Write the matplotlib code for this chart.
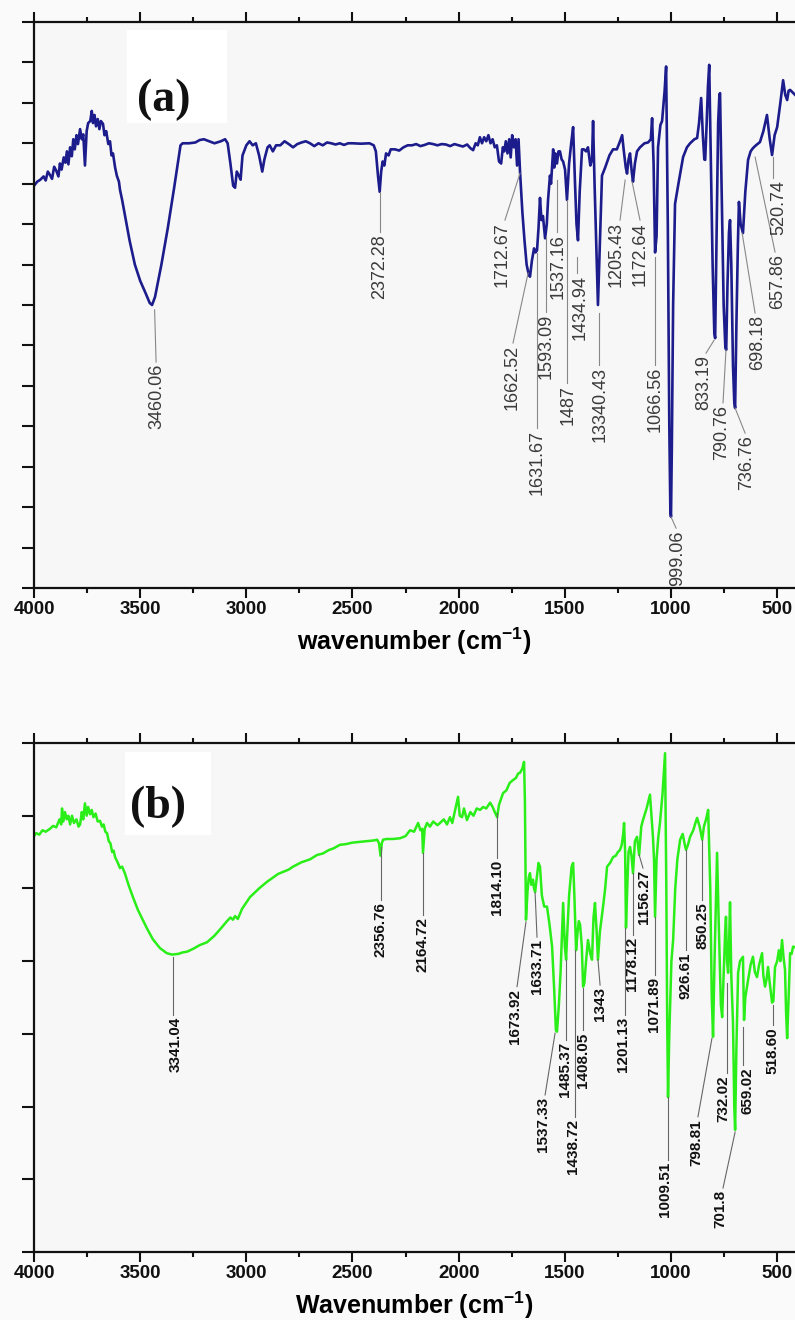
import matplotlib
matplotlib.use('Agg')
import matplotlib.pyplot as plt
from matplotlib.patches import Rectangle
from matplotlib.ticker import MultipleLocator

plt.rcParams['font.family'] = ['Liberation Sans', 'DejaVu Sans']
plt.rcParams['mathtext.fontset'] = 'custom'
plt.rcParams['mathtext.rm'] = 'Liberation Sans:bold'
plt.rcParams['mathtext.it'] = 'Liberation Sans:bold'
plt.rcParams['mathtext.bf'] = 'Liberation Sans:bold'

# ---------------- Panel (a) spectrum ----------------
wn_a = [4000, 3985, 3970, 3955, 3945, 3935, 3925, 3915, 3905, 3895,
        3885, 3878, 3870, 3860, 3852, 3845, 3838, 3830, 3822, 3815,
        3808, 3800, 3793, 3783, 3775, 3768, 3760, 3752, 3745, 3735,
        3728, 3722, 3715, 3708, 3700, 3692, 3685, 3675, 3668, 3660,
        3650, 3642, 3635, 3628, 3618, 3610, 3600, 3595, 3585, 3571,
        3550, 3525, 3500, 3475, 3455, 3444, 3430, 3400, 3370, 3340,
        3310, 3300, 3270, 3240, 3220, 3200, 3180, 3150, 3120, 3100,
        3088, 3075, 3062, 3053, 3045, 3035, 3027, 3018, 3000, 2985,
        2970, 2955, 2940, 2925, 2915, 2900, 2890, 2875, 2860, 2840,
        2820, 2800, 2780, 2760, 2740, 2720, 2700, 2680, 2660, 2640,
        2620, 2600, 2580, 2560, 2540, 2520, 2500, 2460, 2420, 2400,
        2390, 2380, 2372, 2365, 2358, 2350, 2342, 2330, 2320, 2300,
        2280, 2260, 2240, 2220, 2200, 2180, 2160, 2140, 2120, 2100,
        2080, 2060, 2040, 2020, 2000, 1980, 1960, 1945, 1932, 1920,
        1910, 1900, 1890, 1880, 1870, 1860, 1850, 1840, 1830, 1820,
        1810, 1800, 1792, 1785, 1778, 1770, 1762, 1755, 1748, 1740,
        1732, 1725, 1718, 1711, 1700, 1690, 1680, 1670, 1664, 1655,
        1645, 1638, 1631, 1624, 1617, 1610, 1603, 1593, 1585, 1579,
        1570, 1565, 1555, 1550, 1545, 1537, 1530, 1523, 1515, 1508,
        1499, 1490, 1480, 1470, 1461, 1452, 1445, 1438, 1430, 1419,
        1410, 1400, 1391, 1380, 1372, 1367, 1360, 1352, 1344, 1335,
        1325, 1310, 1290, 1273, 1255, 1240, 1230, 1222, 1213, 1207,
        1200, 1193, 1185, 1179, 1170, 1160, 1146, 1125, 1108, 1095,
        1089, 1082, 1075, 1068, 1061, 1050, 1042, 1030, 1023, 1015,
        1008, 1003, 1000, 996, 990, 981, 965, 943, 925, 910,
        890, 877, 868, 858, 850, 843, 839, 832, 826, 820,
        812, 804, 796, 792, 786, 778, 772, 769, 762, 752,
        744, 740, 734, 727, 722, 716, 708, 702, 698, 692,
        685, 680, 672, 661, 650, 637, 625, 614, 600, 581,
        565, 548, 535, 524, 512, 500, 485, 472, 462, 453,
        446, 439, 416]
t_a = [9.95, 10.05, 10.10, 10.18, 10.08, 10.30, 10.22, 10.12, 10.42, 10.32,
       10.18, 10.50, 10.35, 10.65, 10.52, 10.80, 10.48, 10.90, 10.68, 11.10,
       10.85, 11.20, 10.98, 11.35, 11.10, 11.22, 10.45, 11.30, 11.50, 11.55,
       11.80, 11.50, 11.70, 11.42, 11.60, 11.35, 11.55, 11.48, 11.20, 11.30,
       10.98, 11.05, 10.70, 10.75, 10.40, 10.20, 10.05, 9.85, 9.60, 9.20,
       8.60, 8.00, 7.60, 7.30, 7.05, 7.00, 7.20, 8.00, 8.90, 9.90,
       10.95, 11.00, 11.00, 11.02, 11.08, 11.10, 11.06, 11.00, 11.05, 11.10,
       11.00, 10.50, 9.95, 9.90, 10.30, 10.20, 10.10, 10.70, 10.95, 11.05,
       10.95, 11.00, 10.70, 10.30, 10.60, 10.90, 10.95, 10.80, 10.95, 10.95,
       11.05, 10.98, 10.90, 10.98, 11.02, 11.05, 11.00, 10.93, 11.00, 10.95,
       11.02, 11.00, 10.97, 11.00, 10.96, 11.00, 11.00, 10.99, 11.00, 10.95,
       10.80, 10.20, 9.80, 10.30, 10.55, 10.45, 10.75, 10.70, 10.85, 10.85,
       10.82, 10.90, 10.95, 10.95, 10.98, 10.93, 10.96, 11.00, 10.98, 10.95,
       10.98, 10.97, 10.93, 10.98, 10.95, 10.92, 10.97, 10.88, 10.83, 11.00,
       10.95, 11.15, 11.00, 11.15, 11.05, 11.20, 11.00, 11.10, 10.90, 10.95,
       10.55, 10.50, 10.90, 10.80, 11.05, 10.75, 11.10, 10.65, 11.20, 10.90,
       11.10, 10.45, 11.10, 10.30, 9.30, 8.60, 8.00, 7.75, 7.70, 8.10,
       8.40, 8.30, 8.35, 8.90, 9.65, 9.10, 9.20, 8.65, 9.00, 9.60,
       10.20, 10.00, 10.85, 10.40, 10.75, 10.50, 10.80, 10.80, 10.60, 10.55,
       10.35, 9.60, 10.50, 11.00, 11.40, 10.00, 9.00, 8.60, 9.80, 10.85,
       10.85, 10.80, 10.90, 10.45, 10.60, 11.55, 10.00, 8.50, 7.00, 8.50,
       10.20, 10.40, 10.70, 10.85, 10.85, 11.05, 11.20, 10.80, 10.40, 10.25,
       10.60, 10.75, 10.30, 10.05, 10.50, 10.80, 10.90, 11.00, 11.02, 11.10,
       11.62, 10.50, 8.30, 8.70, 10.90, 11.45, 11.55, 12.30, 12.90, 9.00,
       4.00, 1.90, 1.76, 3.50, 7.00, 9.50, 10.00, 10.66, 10.90, 11.00,
       11.10, 11.13, 11.50, 12.12, 11.20, 10.60, 10.59, 11.50, 12.40, 12.94,
       10.50, 8.00, 6.30, 6.18, 8.50, 11.50, 12.20, 12.24, 10.00, 7.00,
       5.95, 5.89, 7.50, 8.80, 9.10, 8.00, 5.50, 4.60, 4.45, 6.50,
       8.50, 9.55, 9.00, 8.78, 9.80, 10.59, 10.80, 10.88, 10.95, 11.03,
       11.30, 11.70, 11.10, 10.71, 11.20, 11.40, 12.00, 12.56, 12.20, 12.07,
       12.30, 12.32, 12.20]

# ---------------- Panel (b) spectrum ----------------
wn_b = [4000, 3990, 3975, 3960, 3945, 3925, 3910, 3895, 3880, 3872,
        3868, 3862, 3854, 3846, 3838, 3830, 3821, 3812, 3800, 3790,
        3783, 3775, 3768, 3760, 3752, 3745, 3736, 3728, 3720, 3710,
        3700, 3689, 3680, 3672, 3664, 3656, 3648, 3640, 3632, 3625,
        3618, 3605, 3595, 3585, 3571, 3555, 3534, 3510, 3490, 3468,
        3440, 3407, 3375, 3350, 3320, 3300, 3279, 3250, 3220, 3185,
        3150, 3120, 3091, 3075, 3063, 3053, 3040, 3020, 2983, 2940,
        2903, 2850, 2800, 2780, 2740, 2700, 2667, 2640, 2610, 2590,
        2559, 2530, 2500, 2465, 2430, 2400, 2384, 2375, 2368, 2362,
        2356, 2340, 2310, 2276, 2250, 2229, 2210, 2191, 2180, 2172,
        2168, 2160, 2149, 2135, 2120, 2100, 2088, 2070, 2055, 2041,
        2030, 2015, 2003, 1995, 1984, 1975, 1961, 1945, 1930, 1915,
        1899, 1885, 1870, 1852, 1840, 1830, 1819, 1810, 1791, 1775,
        1760, 1744, 1730, 1720, 1711, 1700, 1692, 1688, 1683, 1676,
        1670, 1664, 1658, 1650, 1645, 1640, 1630, 1624, 1617, 1608,
        1597, 1584, 1572, 1560, 1550, 1542, 1537, 1528, 1520, 1513,
        1508, 1500, 1494, 1490, 1480, 1468, 1461, 1455, 1447, 1440,
        1434, 1428, 1420, 1414, 1408, 1400, 1391, 1380, 1372, 1365,
        1358, 1350, 1344, 1335, 1320, 1310, 1301, 1287, 1273, 1260,
        1250, 1240, 1232, 1225, 1221, 1216, 1212, 1205, 1200, 1193,
        1186, 1179, 1170, 1160, 1150, 1140, 1132, 1115, 1099, 1092,
        1085, 1080, 1075, 1068, 1060, 1052, 1040, 1028, 1022, 1018,
        1014, 1008, 998, 990, 980, 970, 957, 945, 935, 929,
        920, 910, 895, 885, 877, 865, 853, 845, 835, 825,
        815, 808, 802, 795, 783, 775, 765, 759, 752, 745,
        741, 736, 731, 726, 722, 716, 708, 702, 698, 692,
        684, 675, 661, 656, 650, 637, 625, 614, 605, 595,
        585, 571, 565, 557, 550, 543, 535, 524, 518, 510,
        500, 492, 485, 477, 470, 463, 458, 453, 446, 439,
        432, 425, 416]
t_b = [5.72, 5.76, 5.74, 5.80, 5.78, 5.82, 5.86, 5.84, 5.95, 5.88,
       6.10, 5.92, 6.05, 5.95, 6.00, 5.88, 6.00, 5.90, 5.95, 5.85,
       5.88, 6.05, 5.95, 6.17, 6.00, 6.12, 6.02, 6.08, 5.98, 6.03,
       5.92, 5.93, 5.85, 5.88, 5.78, 5.76, 5.65, 5.62, 5.50, 5.52,
       5.43, 5.35, 5.28, 5.30, 5.20, 5.05, 4.88, 4.70, 4.58, 4.45,
       4.30, 4.18, 4.11, 4.09, 4.10, 4.12, 4.13, 4.17, 4.22, 4.26,
       4.35, 4.45, 4.55, 4.60, 4.57, 4.62, 4.58, 4.72, 4.88, 5.00,
       5.09, 5.20, 5.26, 5.30, 5.36, 5.40, 5.46, 5.48, 5.53, 5.55,
       5.60, 5.61, 5.63, 5.64, 5.65, 5.66, 5.67, 5.62, 5.45, 5.62,
       5.67, 5.68, 5.68, 5.69, 5.72, 5.80, 5.78, 5.90, 5.80, 5.82,
       5.49, 5.82, 5.90, 5.85, 5.92, 5.87, 5.90, 5.95, 5.88, 5.98,
       5.90, 6.10, 6.26, 6.00, 5.98, 6.10, 5.94, 6.05, 6.00, 6.10,
       6.08, 6.12, 6.10, 6.18, 6.12, 6.05, 5.98, 6.15, 6.31, 6.35,
       6.45, 6.49, 6.52, 6.58, 6.59, 6.65, 6.74, 6.20, 4.57, 4.95,
       5.15, 5.21, 5.05, 5.12, 5.00, 4.95, 5.20, 5.35, 5.30, 4.90,
       4.75, 4.75, 4.50, 4.20, 3.60, 3.05, 3.03, 3.40, 3.85, 4.40,
       4.80, 4.20, 4.02, 4.30, 4.90, 5.30, 5.35, 4.90, 4.15, 4.40,
       4.55, 4.50, 4.20, 3.65, 3.70, 4.00, 4.29, 4.10, 4.02, 4.60,
       4.80, 4.40, 4.02, 4.40, 4.75, 5.00, 5.30, 5.35, 5.43, 5.45,
       5.50, 5.53, 5.60, 5.75, 5.90, 5.50, 4.46, 5.10, 5.50, 5.57,
       5.45, 5.21, 5.65, 5.71, 5.46, 5.85, 5.94, 6.10, 6.29, 6.00,
       5.71, 5.40, 4.61, 5.40, 5.70, 5.90, 6.30, 6.86, 5.00, 3.20,
       2.13, 3.00, 4.00, 4.29, 5.00, 5.40, 5.67, 5.75, 5.60, 5.53,
       5.60, 5.71, 5.80, 5.90, 5.97, 5.85, 5.67, 5.85, 5.95, 6.08,
       5.00, 3.50, 2.96, 4.00, 5.49, 4.50, 3.40, 3.23, 3.80, 4.40,
       4.61, 4.00, 3.84, 4.30, 4.81, 3.80, 3.15, 2.00, 1.68, 2.80,
       3.84, 4.00, 4.06, 3.19, 3.50, 3.74, 3.95, 4.06, 3.85, 3.78,
       3.95, 4.11, 3.80, 3.65, 3.75, 3.92, 3.70, 3.43, 3.45, 3.92,
       4.00, 4.15, 4.00, 4.29, 4.05, 3.88, 3.30, 2.94, 3.50, 4.11,
       4.10, 4.20, 4.19]

# ---------------- Peak labels ----------------
labels_a = ['3460.06', '2372.28', '1712.67', '1662.52', '1631.67', '1593.09',
            '1537.16', '1487', '1434.94', '13340.43', '1205.43', '1172.64',
            '1066.56', '999.06', '833.19', '790.76', '736.76', '698.18',
            '657.86', '520.74']
labels_b = ['3341.04', '2356.76', '2164.72', '1814.10', '1673.92', '1633.71',
            '1537.33', '1485.37', '1438.72', '1408.05', '1343', '1201.13',
            '1178.12', '1156.27', '1071.89', '1009.51', '926.61', '850.25',
            '798.81', '732.02', '701.8', '659.02', '518.60']

# leader line start (x0,y0), end (x1,y1), text centre x (layout)
lead_a = [(3432, 6.88, 3425, 5.59, 3421), (2370, 9.79, 2370, 8.81, 2370),
          (1711, 10.26, 1782, 9.10, 1796), (1673, 7.79, 1744, 6.06, 1749),
          (1631, 8.29, 1631, 3.96, 1631), (1589, 8.68, 1589, 6.83, 1589),
          (1537, 10.09, 1537, 8.81, 1532), (1490, 9.60, 1490, 5.07, 1485),
          (1442, 8.19, 1442, 7.79, 1430), (1339, 6.80, 1339, 5.52, 1334),
          (1216, 10.09, 1240, 9.10, 1258), (1183, 10.04, 1146, 9.10, 1146),
          (1075, 8.19, 1075, 5.52, 1075), (1000, 1.76, 976, 1.48, 971),
          (797, 6.13, 835, 5.81, 848), (741, 5.89, 755, 4.58, 760),
          (698, 4.45, 651, 3.83, 642), (665, 8.78, 604, 6.80, 590),
          (604, 10.66, 510, 8.31, 497), (519, 10.66, 519, 10.14, 490)]
lead_b = [(3345, 4.06, 3345, 3.26, 3335), (2366, 5.57, 2366, 4.84, 2366),
          (2168, 5.49, 2168, 4.64, 2168), (1819, 6.04, 1819, 5.42, 1819),
          (1683, 4.54, 1725, 3.65, 1735), (1640, 4.94, 1631, 4.33, 1631),
          (1546, 3.01, 1593, 2.16, 1603), (1494, 4.02, 1494, 2.92, 1499),
          (1452, 4.15, 1452, 1.86, 1461), (1414, 3.63, 1414, 3.05, 1414),
          (1344, 4.02, 1334, 3.67, 1334), (1216, 4.46, 1216, 3.26, 1226),
          (1179, 5.21, 1179, 4.36, 1183), (1150, 5.46, 1132, 5.28, 1127),
          (1075, 4.61, 1075, 3.81, 1080), (1014, 2.13, 1014, 1.27, 1028),
          (929, 5.53, 929, 4.15, 934), (853, 5.67, 853, 4.84, 853),
          (807, 2.94, 873, 1.86, 882), (736, 3.70, 736, 2.46, 755),
          (698, 1.65, 755, 0.88, 769), (661, 3.09, 661, 2.57, 642),
          (519, 3.40, 519, 3.12, 524)]

fig = plt.figure(figsize=(7.95, 13.2), dpi=100, facecolor='#fafafa')
ax_a = fig.add_axes([34 / 795, 1 - 588 / 1320, 1 - 34 / 795, 566 / 1320])
ax_b = fig.add_axes([34 / 795, 1 - 1252 / 1320, 1 - 34 / 795, 509 / 1320])

for ax, ymax in ((ax_a, 14), (ax_b, 7)):
    ax.set_facecolor('#f7f7f7')
    ax.set_xlim(4000, 416)
    ax.set_ylim(0, ymax)
    ax.xaxis.set_major_locator(MultipleLocator(500))
    ax.xaxis.set_minor_locator(MultipleLocator(250))
    ax.yaxis.set_major_locator(MultipleLocator(1))
    ax.tick_params(axis='x', which='major', direction='out', length=7.5,
                   width=1.5, top=True, labelsize=13.5, pad=2, colors='#111')
    ax.tick_params(axis='x', which='minor', direction='out', length=3.8,
                   width=1.5, top=True, colors='#111')
    ax.tick_params(axis='y', which='major', direction='out', length=8.5,
                   width=1.5, labelleft=False, colors='#111')
    ax.spines['right'].set_visible(False)
    for s in ('left', 'top', 'bottom'):
        ax.spines[s].set_linewidth(1.6)
        ax.spines[s].set_color('#111')
    for lab in ax.get_xticklabels():
        lab.set_fontweight('bold')

ax_a.plot(wn_a, t_a, color='#1c1c8c', lw=1.9, solid_joinstyle='round')
ax_b.plot(wn_b, t_b, color='#2aee18', lw=1.8, solid_joinstyle='round')

for s, (x0, y0, x1, y1, xt) in zip(labels_a, lead_a):
    ax_a.plot([x0, x1], [y0, y1], color='#888888', lw=0.8)
    ax_a.text(xt, y1 - 0.05, s, rotation=90, ha='center', va='top',
              fontsize=13, color='#3a3a3a')
for s, (x0, y0, x1, y1, xt) in zip(labels_b, lead_b):
    ax_b.plot([x0, x1], [y0, y1], color='#666666', lw=0.8)
    ax_b.text(xt, y1 - 0.03, s, rotation=90, ha='center', va='top',
              fontsize=11, fontweight='bold', color='#111')

# panel letters on white boxes
ax_a.add_patch(Rectangle((0.122, 0.822), 0.132, 0.164, transform=ax_a.transAxes,
                         facecolor='white', edgecolor='none', zorder=0.5))
ax_a.text(0.171, 0.862, '(a)', transform=ax_a.transAxes, ha='center', va='center',
          fontsize=33, fontweight='bold', family='Liberation Serif', color='#111')
ax_b.add_patch(Rectangle((0.120, 0.819), 0.112, 0.163, transform=ax_b.transAxes,
                         facecolor='white', edgecolor='none', zorder=0.5))
ax_b.text(0.163, 0.874, '(b)', transform=ax_b.transAxes, ha='center', va='center',
          fontsize=33, fontweight='bold', family='Liberation Serif', color='#111')

ax_a.set_xlabel('wavenumber (cm$^{-1}$)', fontsize=18, fontweight='bold', labelpad=5)
ax_b.set_xlabel('Wavenumber (cm$^{-1}$)', fontsize=18, fontweight='bold', labelpad=5)

fig.savefig('out.png', dpi=100, facecolor=fig.get_facecolor())
